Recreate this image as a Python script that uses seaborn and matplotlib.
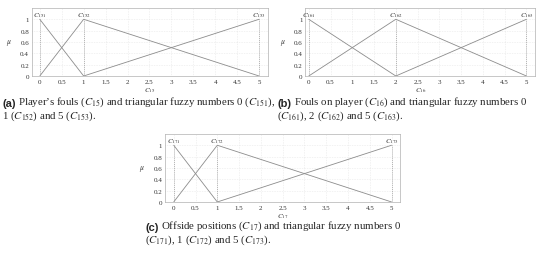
import numpy as np
import pandas as pd
import seaborn as sns
import matplotlib.pyplot as plt

# peaks of the triangular fuzzy numbers for each criterion
peaks_a = [0, 1, 5]
peaks_b = [0, 2, 5]
peaks_c = [0, 1, 5]
names_a = ["C_{151}", "C_{152}", "C_{153}"]
names_b = ["C_{161}", "C_{162}", "C_{163}"]
names_c = ["C_{171}", "C_{172}", "C_{173}"]
xlabels = ["C_{15}", "C_{16}", "C_{17}"]
xticks = [0, 0.5, 1, 1.5, 2, 2.5, 3, 3.5, 4, 4.5, 5]
yticks = [0, 0.2, 0.4, 0.6, 0.8, 1]

captions = [
    [r"Player’s fouls ($C_{15}$) and triangular fuzzy numbers 0 ($C_{151}$),",
     r"1 ($C_{152}$) and 5 ($C_{153}$)."],
    [r"Fouls on player ($C_{16}$) and triangular fuzzy numbers 0",
     r"($C_{161}$), 2 ($C_{162}$) and 5 ($C_{163}$)."],
    [r"Offside positions ($C_{17}$) and triangular fuzzy numbers 0",
     r"($C_{171}$), 1 ($C_{172}$) and 5 ($C_{173}$)."],
]

sns.set_style("white")
plt.rcParams["font.family"] = ["Liberation Serif", "DejaVu Serif"]
plt.rcParams["mathtext.fontset"] = "stix"


def membership(peaks):
    # build the line table of each triangle from its neighbouring peaks
    rows = []
    for i, p in enumerate(peaks):
        xs, ys = [], []
        if i > 0:
            xs.append(peaks[i - 1]); ys.append(0)
        xs.append(p); ys.append(1)
        if i < len(peaks) - 1:
            xs.append(peaks[i + 1]); ys.append(0)
        for x, y in zip(xs, ys):
            rows.append({"x": x, "mu": y, "tfn": i})
    return pd.DataFrame(rows)


def draw(ax, peaks, names, xlab, xlim):
    df = membership(peaks)
    sns.lineplot(data=df, x="x", y="mu", units="tfn", estimator=None,
                 color="#8c8c8c", lw=0.6, ax=ax, sort=False)
    for p, n in zip(peaks, names):
        ax.plot([p, p], [0, 1], ls=(0, (1.5, 1.5)), color="#999999", lw=0.5)
        ax.text(p, 1.01, "$" + n + "$", ha="center", va="bottom",
                fontsize=5, color="#333333")
    ax.set_xlim(*xlim)
    ax.set_ylim(0, 1.2)
    ax.set_xticks(xticks)
    ax.set_xticklabels([f"{t:g}" for t in xticks])
    ax.set_yticks(yticks)
    ax.set_yticklabels([f"{t:g}" for t in yticks])
    ax.grid(True, ls=(0, (1, 2)), color="#d8d8d8", lw=0.4)
    ax.tick_params(labelsize=5, length=0, pad=2, colors="#333333")
    ax.set_xlabel("$" + xlab + "$", fontsize=5, labelpad=1, color="#333333")
    ax.set_ylabel(r"$\mu$", fontsize=5.5, rotation=0, labelpad=8,
                  color="#333333", va="center")
    for s in ax.spines.values():
        s.set_color("#b0b0b0")
        s.set_linewidth(0.5)


fig = plt.figure(figsize=(5.5, 2.55), dpi=100)
ax_a = fig.add_axes([0.058, 0.698, 0.429, 0.267])
ax_b = fig.add_axes([0.555, 0.698, 0.418, 0.267])
ax_c = fig.add_axes([0.300, 0.204, 0.427, 0.267])

draw(ax_a, peaks_a, names_a, xlabels[0], (-0.18, 5.2))
draw(ax_b, peaks_b, names_b, xlabels[1], (-0.08, 5.2))
draw(ax_c, peaks_c, names_c, xlabels[2], (-0.2, 5.19))

# captions: bold sub-label then two lines of text
cap_pos = [(0.004, 0.58), (0.504, 0.58), (0.264, 0.094)]
for lab, cap, (cx, cy) in zip(["(a)", "(b)", "(c)"], captions, cap_pos):
    t = fig.text(cx, cy, lab, fontsize=8, fontweight="bold",
                 family="Liberation Sans", va="baseline", ha="left")
    ax_a.annotate(cap[0], xy=(1, 0), xycoords=t, xytext=(2, 0),
                  textcoords="offset points", fontsize=7.8,
                  va="bottom", ha="left", annotation_clip=False)
    fig.text(cx, cy - 0.045, cap[1], fontsize=7.8, va="baseline", ha="left")

fig.savefig("out.png", dpi=100)
